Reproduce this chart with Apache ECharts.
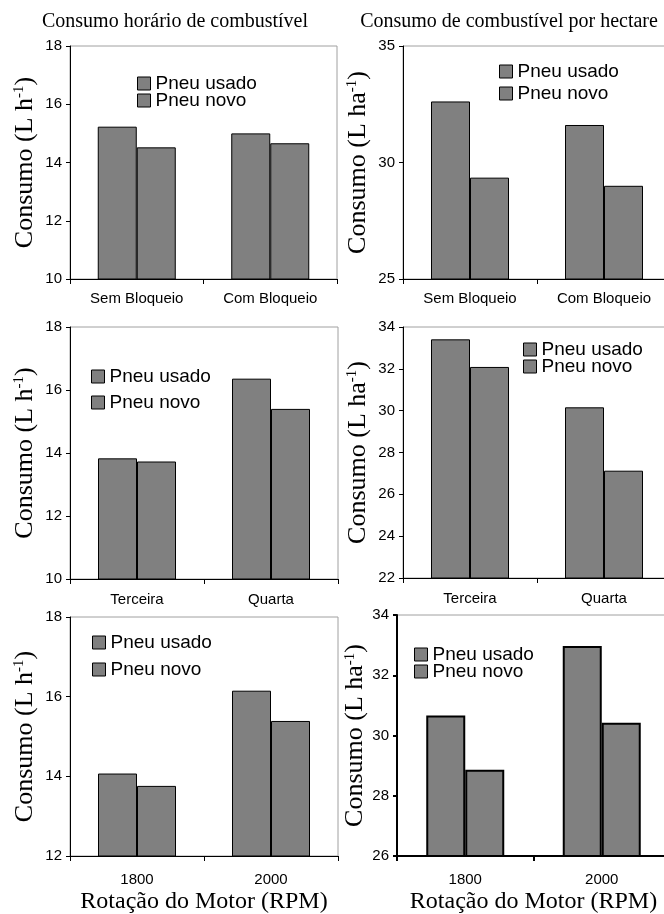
<!DOCTYPE html>
<html><head><meta charset="utf-8">
<script src="https://cdn.jsdelivr.net/npm/echarts@6/dist/echarts.min.js"></script>
<style>html,body{margin:0;padding:0;background:#fff}#c{width:664px;height:914px}</style>
</head><body><div id="c"></div>
<script>
// ---- data ----
const seriesNames = ['Pneu usado', 'Pneu novo'];
const catBloqueio = ['Sem Bloqueio', 'Com Bloqueio'];
const catMarcha = ['Terceira', 'Quarta'];
const catRotacao = ['1800', '2000'];

const horaBloqUsado = [15.23, 15.0];
const horaBloqNovo = [14.52, 14.66];
const haBloqUsado = [32.62, 31.61];
const haBloqNovo = [29.35, 29.0];

const horaMarchaUsado = [13.83, 16.36];
const horaMarchaNovo = [13.73, 15.4];
const haMarchaUsado = [33.41, 30.16];
const haMarchaNovo = [32.09, 27.13];

const horaRotUsado = [14.07, 16.15];
const horaRotNovo = [13.76, 15.39];
const haRotUsado = [30.66, 32.97];
const haRotNovo = [28.86, 30.42];

// y-axis scales [min, max, interval]
const yHora1 = [10, 18, 2];
const yHa1 = [25, 35, 5];
const yHora2 = [10, 18, 2];
const yHa2 = [22, 34, 2];
const yHora3 = [12, 18, 2];
const yHa3 = [26, 34, 2];

const titleHora = 'Consumo horário de combustível';
const titleHa = 'Consumo de combustível por hectare';
const nameHora = '{a|Consumo (L h}{s|-1}{a|)}';
const nameHa = '{a|Consumo (L ha}{s|-1}{a|)}';
const nameX = 'Rotação do Motor (RPM)';

// ---- layout ----
const panels = [
  {grid:{left:70, top:46, width:267, height:233}, cats:catBloqueio, u:horaBloqUsado, n:horaBloqNovo, y:yHora1, yName:nameHora, nameGap:32, leg:[137,74,-2], lw:1, catMargin:12},
  {grid:{left:403, top:46, width:268, height:233}, cats:catBloqueio, u:haBloqUsado, n:haBloqNovo, y:yHa1, yName:nameHa, nameGap:32, leg:[499,62,3], lw:1, catMargin:12},
  {grid:{left:70, top:327, width:268, height:252}, cats:catMarcha, u:horaMarchaUsado, n:horaMarchaNovo, y:yHora2, yName:nameHora, nameGap:32, leg:[91,367,7], lw:1, catMargin:13},
  {grid:{left:403, top:327, width:268, height:251}, cats:catMarcha, u:haMarchaUsado, n:haMarchaNovo, y:yHa2, yName:nameHa, nameGap:32, leg:[523,340,-2], lw:1, catMargin:13},
  {grid:{left:70, top:617, width:268, height:239}, cats:catRotacao, u:horaRotUsado, n:horaRotNovo, y:yHora3, yName:nameHora, nameGap:32, leg:[92,633,8], lw:1, catMargin:16, xName:nameX},
  {grid:{left:397, top:615, width:273, height:241}, cats:catRotacao, u:haRotUsado, n:haRotNovo, y:yHa3, yName:nameHa, nameGap:28, leg:[414,645,-2], lw:2, catMargin:16, xName:nameX}
];

const SANS = 'Liberation Sans, Arial, sans-serif';
const SERIF = 'Liberation Serif, Times New Roman, serif';
const BAR = '#808080';

const option = {
  animation: false,
  backgroundColor: '#fff',
  title: [
    {text: titleHora, left: 175, top: 12, textAlign: 'center', padding: 0,
     textStyle: {fontFamily: SERIF, fontSize: 20, fontWeight: 'normal', color: '#000'}},
    {text: titleHa, left: 509, top: 12, textAlign: 'center', padding: 0,
     textStyle: {fontFamily: SERIF, fontSize: 20, fontWeight: 'normal', color: '#000'}}
  ],
  grid: [], xAxis: [], yAxis: [], series: [], legend: []
};

panels.forEach((p, i) => {
  option.grid.push(Object.assign({show: true, borderColor: '#a0a0a0', borderWidth: 1,
    backgroundColor: 'transparent', outerBoundsMode: 'none', containLabel: false}, p.grid));
  const xa = {
    type: 'category', gridIndex: i, data: p.cats, boundaryGap: true,
    axisLine: {show: true, lineStyle: {color: '#000', width: p.lw}},
    axisTick: {show: true, length: 5, alignWithLabel: false, lineStyle: {color: '#000', width: p.lw}},
    axisLabel: {margin: p.catMargin, fontFamily: SANS, fontSize: 15, color: '#000'},
    splitLine: {show: false}
  };
  if (p.xName) {
    xa.name = p.xName; xa.nameLocation = 'middle'; xa.nameGap = 34;
    xa.nameTextStyle = {fontFamily: SERIF, fontSize: 24, color: '#000'};
  }
  option.xAxis.push(xa);
  option.yAxis.push({
    type: 'value', gridIndex: i, min: p.y[0], max: p.y[1], interval: p.y[2],
    axisLine: {show: true, lineStyle: {color: '#000', width: p.lw}},
    axisTick: {show: true, length: 4, lineStyle: {color: '#000', width: p.lw}},
    axisLabel: {margin: 8, fontFamily: SANS, fontSize: 15, color: '#000'},
    splitLine: {show: false},
    name: p.yName, nameLocation: 'middle', nameRotate: 90, nameGap: p.nameGap,
    nameTextStyle: {rich: {
      a: {fontFamily: SERIF, fontSize: 26, color: '#000'},
      s: {fontFamily: SERIF, fontSize: 15, color: '#000', verticalAlign: 'top'}
    }}
  });
  [p.u, p.n].forEach((vals, k) => {
    option.series.push({
      type: 'bar', name: seriesNames[k], xAxisIndex: i, yAxisIndex: i, data: vals,
      barWidth: 39, barGap: '0%', silent: true,
      itemStyle: {color: BAR, borderColor: '#000', borderWidth: p.lw}
    });
  });
  option.legend.push({
    left: p.leg[0], top: p.leg[1], itemGap: p.leg[2], orient: 'vertical', padding: 0,
    itemWidth: 13, itemHeight: 13, icon: 'rect', selectedMode: false, data: seriesNames,
    textStyle: {fontFamily: SANS, fontSize: 19, color: '#000'},
    itemStyle: {color: BAR, borderColor: '#000', borderWidth: 1}
  });
});

const chart = echarts.init(document.getElementById('c'), null, {renderer: 'canvas'});
chart.setOption(option);
</script>
</body></html>
